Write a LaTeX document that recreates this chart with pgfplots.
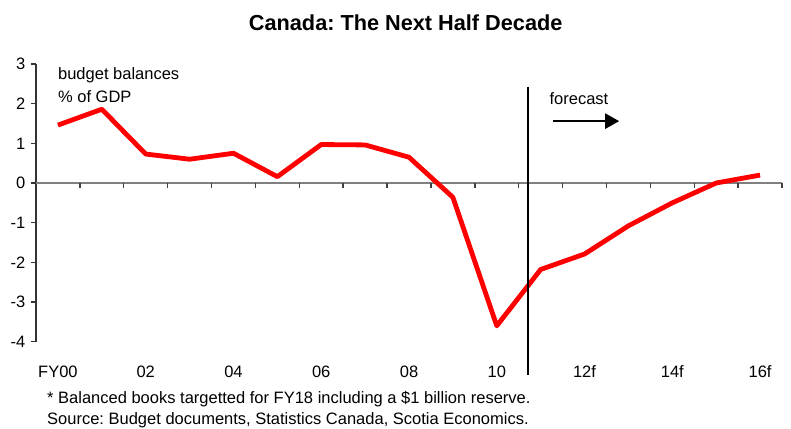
\documentclass[border=0pt]{standalone}
\usepackage{pgfplots}
\pgfplotsset{compat=1.18}
\usepackage{fontspec}
\setmainfont{Liberation Sans}
\usetikzlibrary{arrows.meta}
\begin{document}
\frenchspacing
\fontsize{16.5bp}{20bp}\selectfont
\begin{tikzpicture}
\path[use as bounding box] (0,0) rectangle (791bp,429bp);
\begin{axis}[
 at={(36bp,87.3bp)}, anchor=south west,
 scale only axis, width=746bp, height=277.7bp,
 xmin=-0.5, xmax=16.5, ymin=-4, ymax=3,
 axis y line*=left, axis x line*=bottom,
 x axis line style={draw=none},
 y axis line style={draw=black!80, line width=1.4bp},
 xtick={0,2,...,16}, xticklabels={FY00,02,04,06,08,10,12f,14f,16f},
 xtick style={draw=none},
 xticklabel style={anchor=base, yshift=-31bp},
 ytick={-4,-3,-2,-1,0,1,2,3}, yticklabels={-4,-3,-2,-1,0,1,2,3},
 ytick style={draw=black!80, line width=1.4bp},
 tick align=outside, major tick length=5bp,
 tick label style={font=\fontsize{16.5bp}{20bp}\selectfont},
 clip=false,
]
\draw[black!50, line width=2.4bp] (axis cs:-0.5,0) -- (axis cs:16.5,0);
\pgfplotsinvokeforeach{0.5,1.5,...,16.5}{\draw[black!75, line width=1.4bp] (axis cs:#1,0) -- (axis cs:#1,-0.13);}
\addplot[red, line width=4.8bp, line join=round] coordinates {
(0,1.46) (1,1.86) (2,0.73) (3,0.60) (4,0.75) (5,0.16) (6,0.97) (7,0.96) (8,0.65) (9,-0.36) (10,-3.60) (11,-2.18) (12,-1.79) (13,-1.08) (14,-0.50) (15,0.0) (16,0.2)
};
\draw[black, line width=2bp] (axis cs:10.72,2.43) -- (axis cs:10.72,-4.84);
\draw[black, line width=2.4bp, -{Triangle[length=14bp,width=15bp]}] (axis cs:11.28,1.56) -- (axis cs:12.79,1.56);
\node[anchor=base west, inner sep=0] at (axis cs:11.2,1.98) {forecast};
\node[anchor=base west, inner sep=0] at (axis cs:0,2.60) {budget balances};
\node[anchor=base west, inner sep=0] at (axis cs:0,2.03) {\% of GDP};
\end{axis}
\node[anchor=base, inner sep=0, font=\bfseries\fontsize{21.7bp}{24bp}\selectfont] at (405.7bp,398bp) {Canada: The Next Half Decade};
\node[anchor=base west, inner sep=0] at (47bp,25.7bp) {* Balanced books targetted for FY18 including a \$1 billion reserve.};
\node[anchor=base west, inner sep=0] at (47bp,4.7bp) {Source: Budget documents, Statistics Canada, Scotia Economics.};
\end{tikzpicture}
\end{document}
